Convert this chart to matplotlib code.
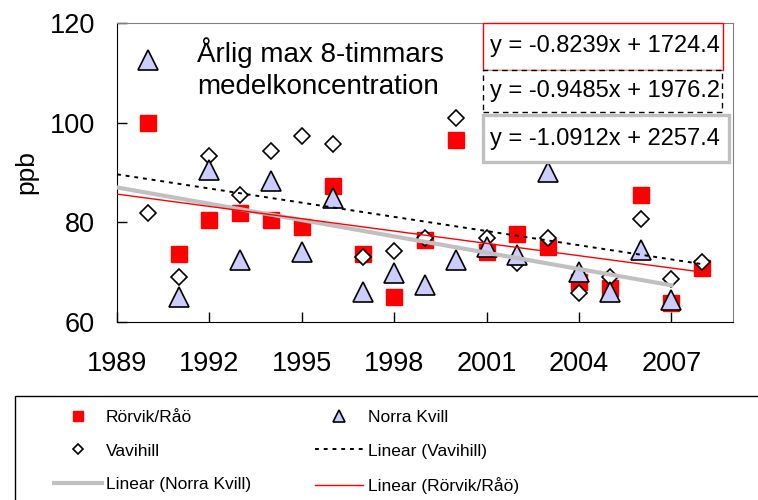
"""Annual max 8-hour mean ozone at three Swedish stations, with linear trends."""

import matplotlib

matplotlib.use("Agg")
import matplotlib.pyplot as plt
import numpy as np
from matplotlib.patches import Rectangle

plt.rcParams["font.family"] = ["Liberation Sans", "DejaVu Sans"]

YEARS = list(range(1990, 2009))
RORVIK = [100.0, 73.7, 80.5, 81.8, 80.5, 79.0, 87.2, 73.7, 65.1, 76.5,
          96.5, 74.1, 77.7, 75.1, 68.1, 66.8, 85.5, 63.8, 70.8]
VAVIHILL = [81.8, 69.1, 93.3, 85.5, 94.4, 97.3, 95.7, 73.1, 74.3, 76.8,
            101.0, 76.8, 71.8, 76.8, 65.8, 69.1, 80.6, 68.6, 72.0]
# Norra Kvill has no value for 2008
NORRA_KVILL = [112.6, 65.1, 90.5, 72.4, 88.2, 74.1, 84.8, 66.1, 69.8, 67.4,
               72.4, 75.0, 73.5, 90.2, 70.1, 66.1, 74.5, 64.4]

# slope, intercept as printed on the chart
TREND_RORVIK = (-0.8239, 1724.4)
TREND_VAVIHILL = (-0.9485, 1976.2)
TREND_NORRA = (-1.0912, 2257.4)
EQ_TEXTS = ["y = -0.8239x + 1724.4", "y = -0.9485x + 1976.2", "y = -1.0912x + 2257.4"]

X_TICKS = [1989, 1992, 1995, 1998, 2001, 2004, 2007]
Y_TICKS = [60, 80, 100, 120]
TITLE = "Årlig max 8-timmars\nmedelkoncentration"

RED = "#FF0000"
LAVENDER = "#CCCCFF"
GREY = "#C0C0C0"


def trend(coef, start, stop):
    x = np.array([start, stop], dtype=float)
    return x, coef[0] * x + coef[1]


def main() -> None:
    fig = plt.figure(figsize=(7.58, 5.0), dpi=100)
    ax = fig.add_axes([117 / 758, 1 - 322 / 500, 616 / 758, 299 / 500])

    yrs = np.array(YEARS)
    ax.plot(yrs, RORVIK, "s", ms=12, color=RED, mec=RED, zorder=3, label="Rörvik/Råö")
    ax.plot(yrs, VAVIHILL, "D", ms=8.6, mfc="white", mec="black", mew=1.2, zorder=3,
            label="Vavihill")
    ax.plot(yrs[:len(NORRA_KVILL)], NORRA_KVILL, "^", ms=14, mfc=LAVENDER, mec="black",
            mew=1.2, zorder=3, label="Norra Kvill")

    x, y = trend(TREND_NORRA, 1989, yrs[len(NORRA_KVILL) - 1])
    ax.plot(x, y, color=GREY, lw=3, zorder=4, label="Linear (Norra Kvill)")
    x, y = trend(TREND_VAVIHILL, 1989, yrs[-1])
    ax.plot(x, y, color="black", lw=1.4, ls=(0, (2, 2.5)), zorder=4, label="Linear (Vavihill)")
    x, y = trend(TREND_RORVIK, 1989, yrs[-1])
    ax.plot(x, y, color=RED, lw=1, zorder=4, label="Linear (Rörvik/Råö)")

    ax.set_xlim(1989, 2009)
    ax.set_ylim(60, 120)
    ax.set_xticks(X_TICKS)
    ax.set_yticks(Y_TICKS)
    ax.tick_params(axis="both", direction="in", length=7, width=1, labelsize=19.5)
    ax.tick_params(axis="x", pad=21)
    ax.tick_params(axis="y", pad=16)
    ax.set_ylabel("ppb", fontsize=19)
    ax.yaxis.set_label_coords(-0.128, 0.5)
    for side in ("left", "bottom"):
        ax.spines[side].set_color("black")
    for side in ("top", "right"):
        ax.spines[side].set_color("#808080")

    ax.text(0.130, 0.848, TITLE, transform=ax.transAxes, fontsize=20, ha="left",
            va="center", linespacing=1.3, zorder=5)

    # trendline equation boxes
    boxes = [
        (0.594, 0.843, 0.390, 0.157, RED, "-", 1.0),
        (0.594, 0.702, 0.388, 0.141, "black", (0, (4, 3)), 1.0),
        (0.594, 0.535, 0.400, 0.157, GREY, "-", 2.4),
    ]
    for (bx, by, bw, bh, ec, ls, lw), txt in zip(boxes, EQ_TEXTS):
        ax.add_patch(Rectangle((bx, by), bw, bh, transform=ax.transAxes, fc="white",
                               ec=ec, ls=ls, lw=lw, zorder=6, clip_on=False))
        ax.text(0.792, by + bh / 2, txt, transform=ax.transAxes, fontsize=17,
                ha="center", va="center", zorder=7)

    # legend: frame runs off the figure edge like the source
    fig.patches.append(Rectangle((15 / 758, -0.02), 1.0, 0.02 + 104 / 500,
                                 transform=fig.transFigure, fc="none", ec="black",
                                 lw=1, clip_on=False))
    h, lab = ax.get_legend_handles_labels()
    by_label = dict(zip(lab, h))
    order = ["Rörvik/Råö", "Vavihill", "Linear (Norra Kvill)",
             "Norra Kvill", "Linear (Vavihill)", "Linear (Rörvik/Råö)"]
    fig.legend([by_label[k] for k in order], order, loc="upper left", ncol=2,
               bbox_to_anchor=(54 / 758, 1 - 410 / 500), frameon=False,
               prop={"size": 12.5},
               handlelength=2.75, handletextpad=0.25, columnspacing=3.7,
               labelspacing=1.05, borderpad=0, borderaxespad=0, markerscale=0.6)

    fig.savefig("out.png", dpi=100)
    plt.close(fig)


if __name__ == "__main__":
    main()
